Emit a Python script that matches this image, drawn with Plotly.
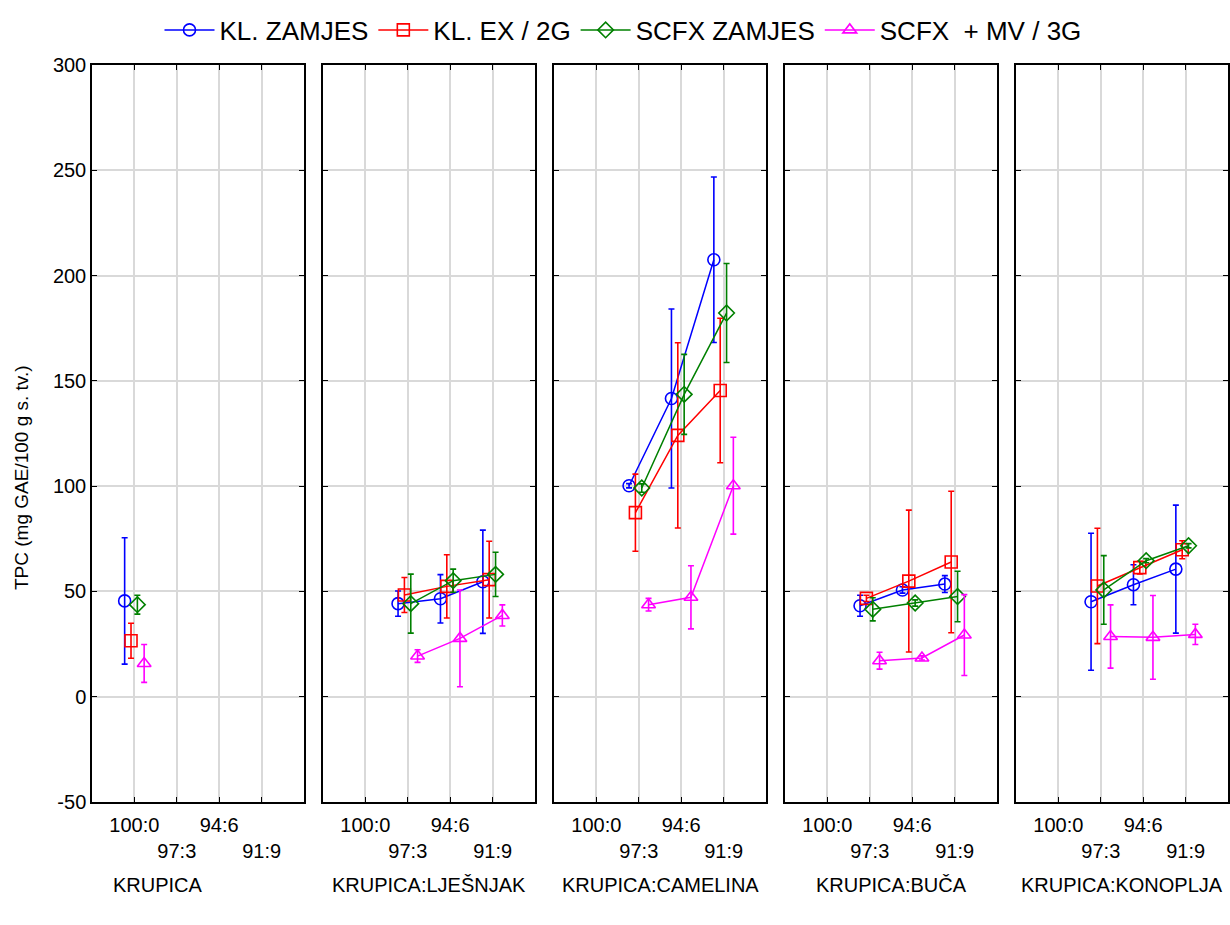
import plotly.graph_objects as go
from plotly.subplots import make_subplots

# categories on the x axis (ratio) and the five panels
categories = ["100:0", "97:3", "94:6", "91:9"]
panels = ["KRUPICA", "KRUPICA:LJEŠNJAK", "KRUPICA:CAMELINA", "KRUPICA:BUČA", "KRUPICA:KONOPLJA"]
panel_cats = [["100:0"], ["97:3", "94:6", "91:9"], ["97:3", "94:6", "91:9"],
              ["97:3", "94:6", "91:9"], ["97:3", "94:6", "91:9"]]
y_ticks = [-50, 0, 50, 100, 150, 200, 250, 300]

# TPC means per panel (mg GAE/100 g s. tv.)
kl_zamjes = [[45.5], [44.2, 46.5, 54.6], [100.2, 141.6, 207.5], [43.2, 50.7, 53.5], [45.1, 53.2, 60.6]]
kl_ex = [[26.6], [48.3, 52.4, 55.6], [87.4, 124.1, 145.4], [46.7, 54.9, 64.0], [52.6, 61.3, 69.8]]
scfx_zamjes = [[43.7], [44.2, 55.1, 58.1], [99.1, 143.6, 182.2], [41.5, 44.5, 47.6], [50.7, 64.6, 71.7]]
scfx_mv = [[15.8], [19.3, 27.7, 38.6], [43.7, 47.2, 100.2], [17.1, 18.4, 29.3], [28.6, 28.2, 29.6]]

# +/- error bars
kl_zamjes_err = [[30.0], [6.0, 11.5, 24.5], [1.0, 42.5, 39.3], [5.0, 1.5, 4.0], [32.5, 9.5, 30.4]]
kl_ex_err = [[8.3], [8.3, 15.0, 18.2], [18.3, 44.0, 34.3], [1.5, 33.7, 33.6], [27.4, 3.0, 4.3]]
scfx_zamjes_err = [[4.5], [14.0, 5.5, 10.5], [2.0, 19.0, 23.5], [5.5, 1.5, 12.0], [16.3, 1.0, 1.0]]
scfx_mv_err = [[9.0], [3.0, 23.0, 5.0], [3.0, 15.0, 23.0], [4.0, 1.0, 19.2], [15.0, 19.9, 4.8]]

series = [
    ("KL. ZAMJES", kl_zamjes, kl_zamjes_err, "#0000ff", "circle-open", -0.23),
    ("KL. EX / 2G", kl_ex, kl_ex_err, "#ff0000", "square-open", -0.08),
    ("SCFX ZAMJES", scfx_zamjes, scfx_zamjes_err, "#008000", "diamond-open", 0.07),
    ("SCFX  + MV / 3G", scfx_mv, scfx_mv_err, "#ff00ff", "triangle-up-open", 0.23),
]

W, H = 1230, 925
L, R, T, B = 92, 2, 65, 123
pw, gap = 212, 19
plot_w = W - L - R
plot_h = H - T - B

fig = make_subplots(rows=1, cols=5, shared_yaxes=True)

for name, vals, errs, color, symbol, off in series:
    for p in range(5):
        xs = [categories.index(c) + 1 + off for c in panel_cats[p]]
        fig.add_trace(go.Scatter(
            x=xs, y=vals[p],
            mode="lines+markers",
            name=name,
            legendgroup=name,
            showlegend=(p == 0),
            line=dict(color=color, width=1.5),
            marker=dict(symbol=symbol, size=12, color=color, line=dict(width=1.6, color=color)),
            error_y=dict(type="data", array=errs[p], visible=True, color=color,
                         thickness=1.6, width=3),
        ), row=1, col=p + 1)

tick_text = ["100:0", "<br>97:3", "94:6", "<br>91:9"]
for p in range(5):
    x0 = (p * (pw + gap)) / plot_w
    x1 = (p * (pw + gap) + pw) / plot_w
    fig.update_xaxes(
        domain=[x0, x1], range=[0, 5],
        tickvals=[1, 2, 3, 4], ticktext=tick_text, tickangle=0,
        showgrid=True, gridcolor="#d9d9d9", gridwidth=1.5,
        showline=True, linecolor="black", linewidth=1.5, mirror="ticks",
        ticks="inside", ticklen=5, tickcolor="black",
        tickfont=dict(size=20, color="black"), ticklabelstandoff=4,
        zeroline=False, automargin=False,
        row=1, col=p + 1)
    fig.update_yaxes(
        range=[-50, 300], tickvals=y_ticks, ticktext=[str(v) for v in y_ticks],
        showgrid=True, gridcolor="#d9d9d9", gridwidth=1.5,
        showline=True, linecolor="black", linewidth=1.5, mirror="ticks",
        ticks="inside", ticklen=5, tickcolor="black",
        tickfont=dict(size=20, color="black"),
        showticklabels=(p == 0),
        zeroline=False, automargin=False,
        row=1, col=p + 1)

# panel labels under the axes
label_x = [158, 429, 660, 891, 1122]
for name, lx in zip(panels, label_x):
    fig.add_annotation(text=name, x=(lx - L) / plot_w, y=(H - B - 885) / plot_h,
                       xref="paper", yref="paper", showarrow=False,
                       xanchor="center", yanchor="middle",
                       font=dict(size=20, color="black"))

fig.add_annotation(text="TPC (mg GAE/100 g s. tv.)", x=(21 - L) / plot_w, y=(H - B - 478) / plot_h,
                   xref="paper", yref="paper", showarrow=False, textangle=-90,
                   xanchor="center", yanchor="middle",
                   font=dict(size=19, color="black"))

fig.update_layout(
    width=W, height=H,
    margin=dict(l=L, r=R, t=T, b=B),
    paper_bgcolor="white", plot_bgcolor="white",
    font=dict(family="Liberation Sans, Arial, sans-serif", color="black"),
    legend=dict(orientation="h", x=(623 - L) / plot_w, y=1 + (T - 30) / plot_h,
                xanchor="center", yanchor="middle",
                font=dict(size=26, color="black"), itemwidth=50),
)

# remove the browser's default body margin so the figure sits at the page origin
fig.write_html("out.html", config={"displayModeBar": False},
               post_script="document.body.style.margin='0';")
